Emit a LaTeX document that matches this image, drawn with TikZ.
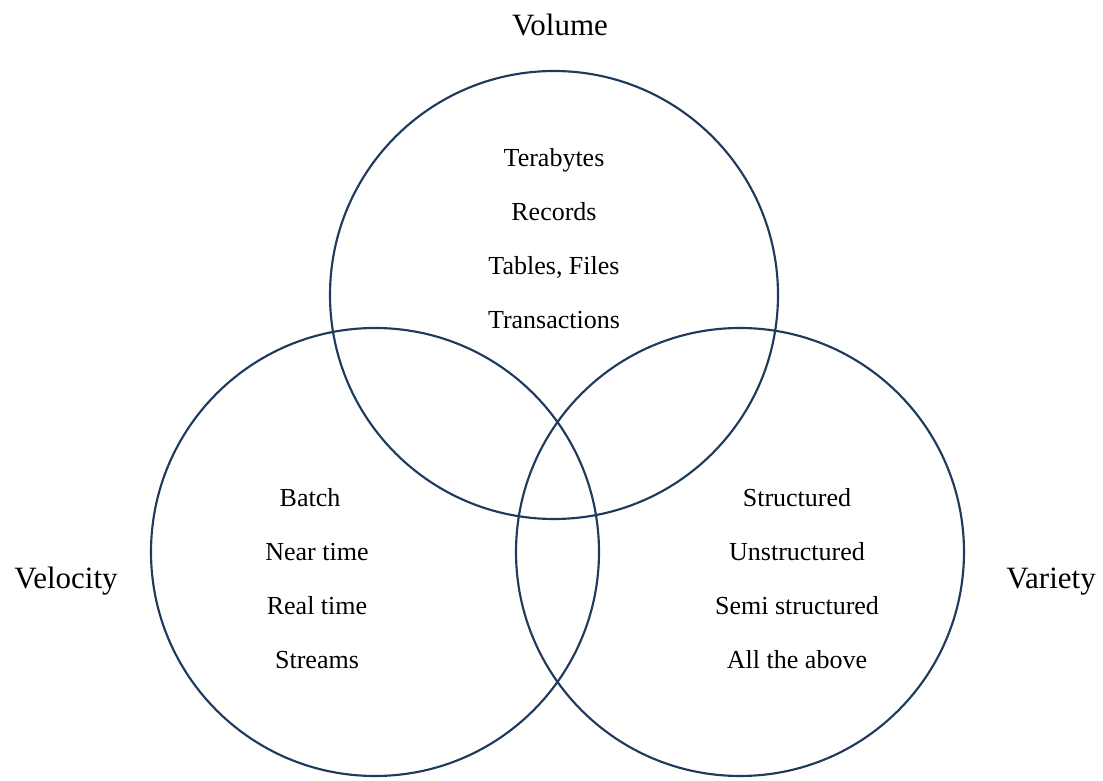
\documentclass[tikz,border=0pt]{standalone}
\usepackage{fontspec}
\setmainfont{Liberation Serif}
\definecolor{vennblue}{HTML}{1F3A5A}
\tikzset{
  venn/.style={circle, draw=vennblue, line width=1.6pt, minimum size=336pt, inner sep=0pt},
  item/.style={anchor=base, font=\fontsize{19.5}{23}\selectfont},
  vlabel/.style={anchor=base, font=\fontsize{23.25}{28}\selectfont}
}
\begin{document}
\begin{tikzpicture}[x=0.75pt, y=0.75pt]
        \useasboundingbox (0,0) rectangle (1103,781);
        % Cerchi
        \node[venn] (vol) at (554,486) {};
        \node[venn] (vel) at (375,229) {};
        \node[venn] (var) at (740,229) {};

        % Etichette
        \node[vlabel] (volT) at (560,745) {Volume};
        \node[vlabel] (velT) at (66,192) {Velocity};
        \node[vlabel] (varT) at (1051,192) {Variety};

        % Testo dentro i cerchi
        \foreach \t [count=\i] in {Terabytes, Records, {Tables, Files}, Transactions}
          \node[item] (vol\i) at (554,668-54*\i) {\t};
        \foreach \t/\x [count=\i] in {Batch/310, Near time/317, Real time/317, Streams/317}
          \node[item] (vel\i) at (\x,328-54*\i) {\t};
        \foreach \t [count=\i] in {Structured, Unstructured, Semi structured, All the above}
          \node[item] (var\i) at (797,328-54*\i) {\t};
    \end{tikzpicture}
\end{document}
